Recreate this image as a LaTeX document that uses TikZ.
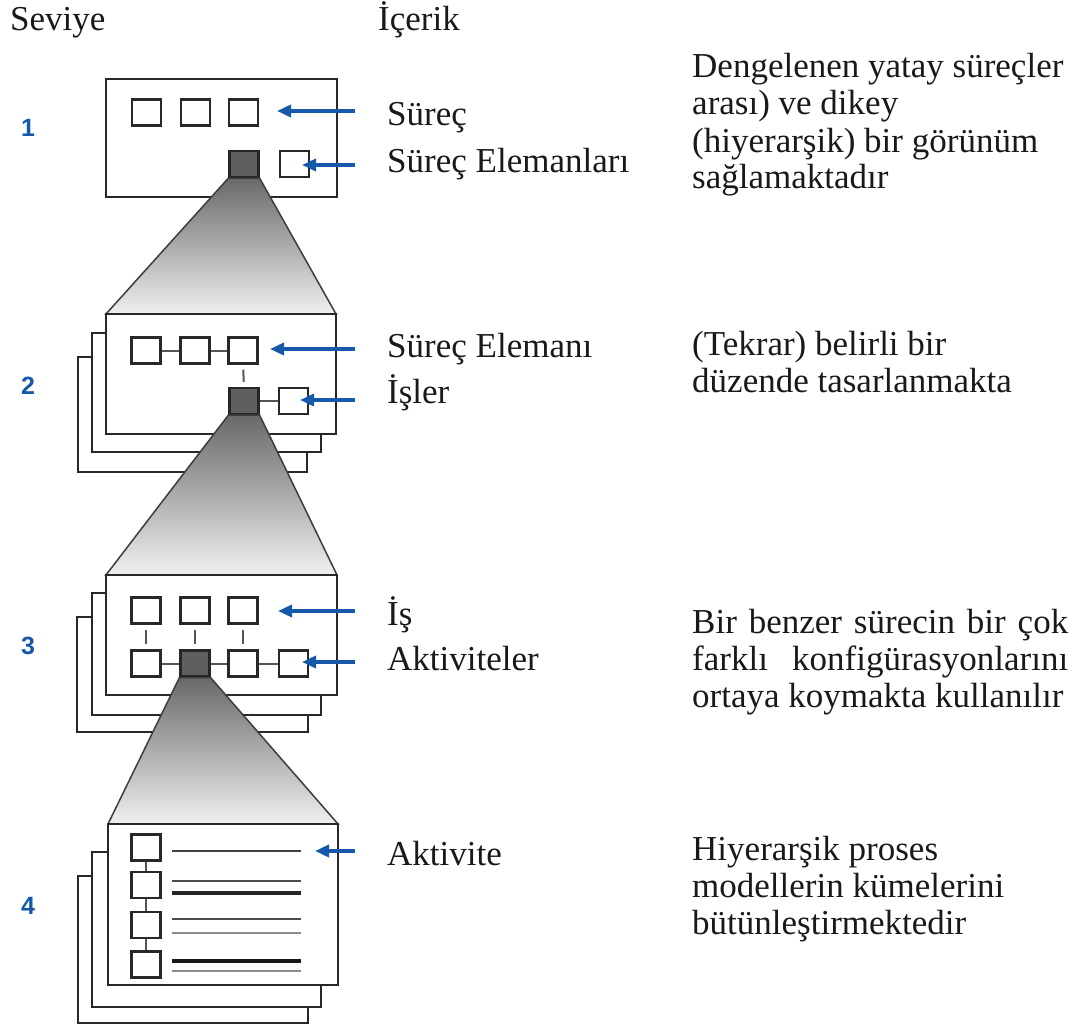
\documentclass[tikz,border=0pt]{standalone}
\usepackage{fontspec}
\setmainfont{Liberation Serif}
\newfontfamily\numfont{Liberation Sans}
\usetikzlibrary{arrows.meta}
\definecolor{okmavi}{RGB}{22,88,170}
\definecolor{cizgi}{RGB}{40,40,40}
\definecolor{bagri}{RGB}{85,85,85}
\definecolor{koyugri}{RGB}{95,95,95}
\definecolor{huniust}{RGB}{105,105,105}
\definecolor{hunialt}{RGB}{240,240,240}
\definecolor{yazi}{RGB}{25,25,25}

\begin{document}
\begin{tikzpicture}[x=1pt, y=-1pt, line join=miter,
  kutu/.style={draw=cizgi, line width=2.2pt, fill=white, minimum width=29pt, minimum height=26pt, inner sep=0pt},
  koyukutu/.style={kutu, fill=koyugri, draw=black!85},
  sayfa/.style={draw=cizgi, line width=2pt, fill=white},
  bag/.style={draw=bagri, line width=2pt},
  kisa/.style={bag, shorten <=5pt, shorten >=5pt},
  huni/.style={top color=huniust, bottom color=hunialt, draw=cizgi!90, line width=1.5pt},
  ok/.style={draw=okmavi, line width=4pt, -{Triangle[width=12pt,length=14pt]}},
  etiket/.style={anchor=base west, inner sep=0pt, text=yazi, font=\fontsize{35}{37}\selectfont},
  aciklama/.style={etiket, text width=378pt, align=flush left}, % text width: base = ilk satır
  seviye/.style={inner sep=0pt, text=okmavi, font=\numfont\bfseries\fontsize{25}{30}\selectfont}]

  % tuvali sabitle
  \path[use as bounding box] (0,0) rectangle (1078,1030);

  % ════ sayfa köşeleri (huni uçları) ════
  \coordinate (k2sol) at (106,314); \coordinate (k2sag) at (336,314);
  \coordinate (k3sol) at (106,575); \coordinate (k3sag) at (337,575);
  \coordinate (k4sol) at (108,824); \coordinate (k4sag) at (338,824);

  % ════ Seviye 1 ════
  \draw[sayfa] (106,79) rectangle (337,197);
  \node[kutu] (l1a) at (146.5,112.5) {};
  \node[kutu] (l1b) at (195.5,112.5) {};
  \node[kutu] (l1c) at (243.5,112.5) {};
  \node[koyukutu] (l1k) at (244,164) {};
  \node[kutu] (l1d) at (294.5,164) {};

  \shadedraw[huni] (l1k.south west) -- (l1k.south east) -- (k2sag) -- (k2sol) -- cycle;

  % ════ Seviye 2 ════
  \draw[sayfa] (78,357) rectangle (307,472);
  \draw[sayfa] (92,333) rectangle (321,452);
  \draw[sayfa] (k2sol) rectangle (336,434);
  \node[kutu] (l2a) at (146,350.5) {};
  \node[kutu] (l2b) at (195,350.5) {};
  \node[kutu] (l2c) at (243,350.5) {};
  \node[koyukutu] (l2k) at (244,401) {};
  \node[kutu] (l2d) at (293.5,401) {};
  \draw[bag] (l2a) -- (l2b);
  \draw[bag] (l2b) -- (l2c);
  \draw[kisa] (l2c) -- (l2k);
  \draw[bag] (l2k) -- (l2d);

  \shadedraw[huni] (l2k.south west) -- (l2k.south east) -- (k3sag) -- (k3sol) -- cycle;

  % ════ Seviye 3 ════
  \draw[sayfa] (77,617) rectangle (308,732);
  \draw[sayfa] (92,593) rectangle (321,715);
  \draw[sayfa] (k3sol) rectangle (337,695);
  \node[kutu] (l3a) at (146,610.5) {};
  \node[kutu] (l3b) at (195,610.5) {};
  \node[kutu] (l3c) at (243,610.5) {};
  \node[kutu] (l3e) at (146,663.5) {};
  \node[koyukutu] (l3k) at (195,663.5) {};
  \node[kutu] (l3f) at (243,663.5) {};
  \node[kutu] (l3g) at (293.5,663.5) {};
  \draw[kisa] (l3a) -- (l3e);
  \draw[kisa] (l3b) -- (l3k);
  \draw[kisa] (l3c) -- (l3f);
  \draw[bag] (l3e) -- (l3k);
  \draw[bag] (l3k) -- (l3f);
  \draw[bag] (l3f) -- (l3g);

  \shadedraw[huni] (l3k.south west) -- (l3k.south east) -- (k4sag) -- (k4sol) -- cycle;

  % ════ Seviye 4 ════
  \draw[sayfa] (78,876) rectangle (308,1023);
  \draw[sayfa] (92,852) rectangle (321,1007);
  \draw[sayfa] (k4sol) rectangle (338,985);
  \node[kutu] (l4a) at (146,847.5) {};
  \node[kutu] (l4b) at (146,885) {};
  \node[kutu] (l4c) at (146,925) {};
  \node[kutu] (l4d) at (146,964.5) {};
  \draw[bag] (l4a) -- (l4b);
  \draw[bag] (l4b) -- (l4c);
  \draw[bag] (l4c) -- (l4d);
  % metin satırları
  \draw[line width=2.6pt, black!75] (172,851) -- (301,851);
  \draw[line width=2.6pt, black!70] (172,881) -- (301,881);
  \draw[line width=3.2pt, black!85] (172,893) -- (301,893);
  \draw[line width=2.6pt, black!70] (172,919) -- (301,919);
  \draw[line width=2.6pt, black!45] (172,933) -- (301,933);
  \draw[line width=3.6pt, black!90] (172,961) -- (301,961);
  \draw[line width=2.6pt, black!45] (172,971) -- (301,971);

  % ════ oklar ════
  \coordinate (o1s) at (355,111); \coordinate (o1e) at (277,111);
  \coordinate (o2s) at (355,165); \coordinate (o2e) at (302,165);
  \coordinate (o3s) at (355,349); \coordinate (o3e) at (270,349);
  \coordinate (o4s) at (355,400); \coordinate (o4e) at (300,400);
  \coordinate (o5s) at (355,611); \coordinate (o5e) at (278,611);
  \coordinate (o6s) at (355,662); \coordinate (o6e) at (302,662);
  \coordinate (o7s) at (355,851); \coordinate (o7e) at (315,851);
  \foreach \i in {1,...,7}{\draw[ok] (o\i s) -- (o\i e);}

  % ════ başlıklar ════
  \node[etiket] (seviye) at (10,31) {Seviye};
  \node[etiket] (icerik) at (378,31) {İçerik};

  % ════ seviye numaraları ════
  \node[seviye] (n1) at (28,128) {1};
  \node[seviye] (n2) at (28,386) {2};
  \node[seviye] (n3) at (28,646) {3};
  \node[seviye] (n4) at (28,906) {4};

  % ════ içerik etiketleri ════
  \node[etiket] (surec) at (387,125) {Süreç};
  \node[etiket] (elemanlar) at (387,172) {Süreç Elemanları};
  \node[etiket] (eleman) at (387,357) {Süreç Elemanı};
  \node[etiket] (isler) at (387,403) {İşler};
  \node[etiket] (is) at (387,625) {İş};
  \node[etiket] (aktiviteler) at (387,670) {Aktiviteler};
  \node[etiket] (aktivite) at (387,865) {Aktivite};

  % ════ açıklamalar ════
  \node[aciklama] (acik1) at (692,78) {Dengelenen yatay süreçler\\arası) ve dikey\\(hiyerarşik) bir görünüm\\sağlamaktadır};
  \node[aciklama] (acik2) at (692,355) {(Tekrar) belirli bir\\düzende tasarlanmakta};
  \node[aciklama, text width=376pt, align=justify] (acik3) at (692,633)
    {\parfillskip=0pt Bir benzer sürecin bir çok\linebreak farklı\ \ konfigürasyonlarını\linebreak ortaya koymakta kullanılır};
  \node[aciklama] (acik4) at (692,860) {Hiyerarşik proses\\modellerin kümelerini\\bütünleştirmektedir};
\end{tikzpicture}
\end{document}
